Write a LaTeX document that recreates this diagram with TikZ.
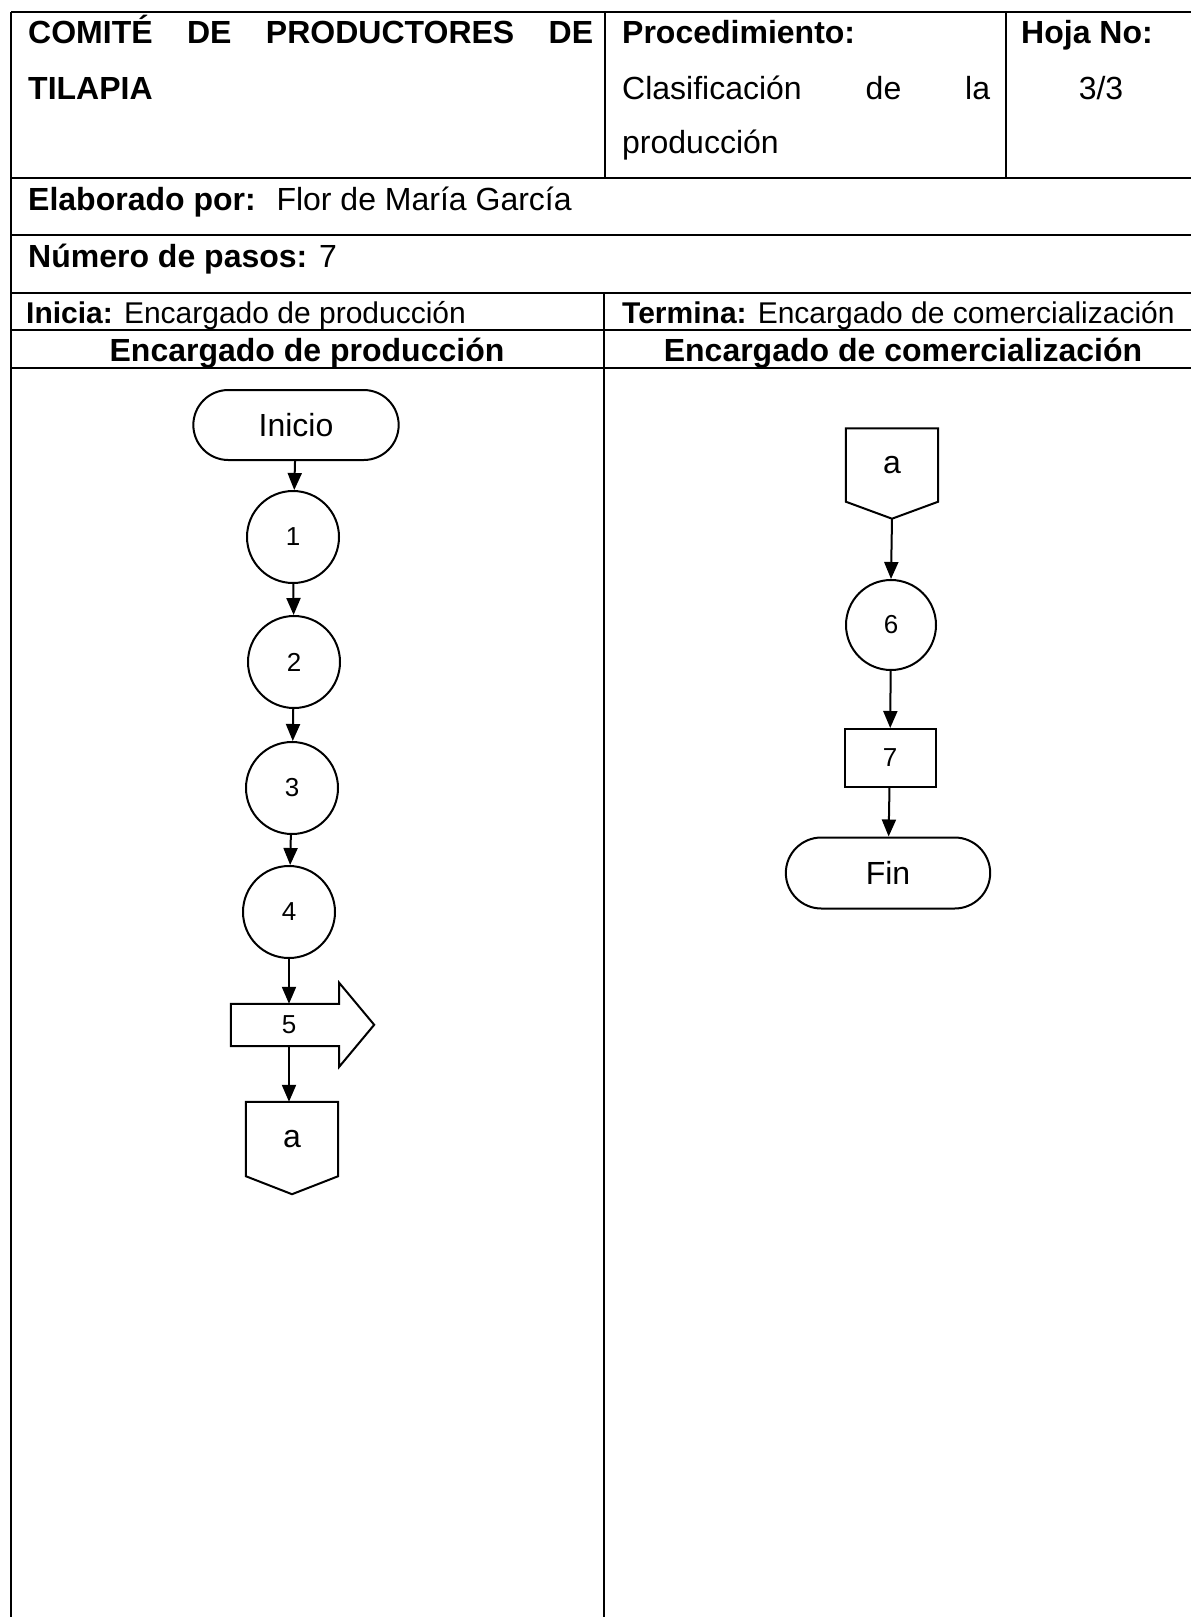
\documentclass[tikz,border=0pt]{standalone}
\usepackage{fontspec}
\setmainfont{Liberation Sans}
\usetikzlibrary{arrows.meta,shapes.misc}

\tikzset{
	texto/.style={anchor=base west, inner sep=0pt, font=\fontsize{32}{38}\selectfont},
	textochico/.style={anchor=base west, inner sep=0pt, font=\fontsize{30}{36}\selectfont},
	titulo/.style={anchor=base, inner sep=0pt, font=\fontsize{32}{38}\selectfont\bfseries},
	paso/.style={circle, draw, line width=2pt, minimum size=92pt, inner sep=0pt, font=\fontsize{26}{30}\selectfont},
	terminal/.style={rounded rectangle, draw, line width=2pt, minimum width=212pt, minimum height=70pt, font=\fontsize{32}{38}\selectfont},
	conector/.style={rectangle, minimum width=92pt, minimum height=74pt, inner sep=0pt, font=\fontsize{32}{38}\selectfont},
	flecha/.style={line width=2pt, -{Triangle[length=17pt,width=14pt]}},
	tabla/.style={line width=2.2pt}
}

\begin{document}
\begin{tikzpicture}[x=1pt, y=-1pt]
	\useasboundingbox (0,0) rectangle (1191,1617);

	% Draw table
	\draw[tabla] (11,12) -- (1191,12);
	\draw[tabla] (11,12) -- (11,1617);
	\draw[tabla] (11,178) -- (1191,178);
	\draw[tabla] (11,235) -- (1191,235);
	\draw[tabla] (11,293) -- (1191,293);
	\draw[tabla] (11,330) -- (1191,330);
	\draw[tabla] (11,368) -- (1191,368);
	\draw[tabla] (605,12) -- (605,178);
	\draw[tabla] (1006,12) -- (1006,178);
	\draw[tabla] (604,293) -- (604,1617);

	% Header texts
	\node[texto] (comite) at (28,43) {\bfseries\makebox[565pt][s]{COMITÉ DE PRODUCTORES DE}};
	\node[texto] (tilapia) at (28,99) {\bfseries TILAPIA};
	\node[texto] (proc) at (622,43) {\bfseries Procedimiento:};
	\node[texto] (clasif) at (622,99) {\makebox[368pt][s]{Clasificación de la}};
	\node[texto] (produc) at (622,153) {producción};
	\node[texto] (hoja) at (1021,43) {\bfseries Hoja No:};
	\node[texto, anchor=base] (num) at (1101,99) {3/3};
	\node[texto] (elab) at (28,210) {\textbf{Elaborado por:}~ Flor de María García};
	\node[texto] (pasos) at (28,267) {\textbf{Número de pasos:} 7};
	\node[textochico] (inicia) at (26,323) {\textbf{Inicia:} Encargado de producción};
	\node[textochico] (termina) at (622,323) {\textbf{Termina:} Encargado de comercialización};
	\node[titulo] (carril1) at (307,361) {Encargado de producción};
	\node[titulo] (carril2) at (903,361) {Encargado de comercialización};

	% Encargado de produccion
	\node[terminal] (inicio) at (296,425) {Inicio};
	\node[paso] (p1) at (293,537) {1};
	\node[paso] (p2) at (294,662) {2};
	\node[paso] (p3) at (292,788) {3};
	\node[paso] (p4) at (289,912) {4};
	\node[rectangle, minimum width=108pt, minimum height=42pt, inner sep=0pt, font=\fontsize{26}{30}\selectfont] (p5) at (285,1025) {\hspace*{8pt}5};
	\draw[line width=2pt] (p5.north west) -- (p5.north east) -- ++(0,-21) -- ++(35,42) -- ++(-35,42) -- (p5.south east) -- (p5.south west) -- cycle;
	\node[conector] (a1) at (292,1139) {a};
	\draw[line width=2pt] (a1.north west) -- (a1.north east) -- (a1.south east) -- ([yshift=-18pt]a1.south) -- (a1.south west) -- cycle;

	% Encargado de comercializacion
	\node[conector, minimum height=73pt] (a2) at (892,465) {a};
	\draw[line width=2pt] (a2.north west) -- (a2.north east) -- (a2.south east) -- ([yshift=-17pt]a2.south) coordinate (a2punta) -- (a2.south west) -- cycle;
	\node[paso, minimum size=90pt] (p6) at (891,625) {6};
	\node[rectangle, draw, line width=2pt, minimum width=91pt, minimum height=58pt, font=\fontsize{26}{30}\selectfont] (p7) at (890,758) {7};
	\node[terminal, minimum width=211pt, minimum height=71pt] (fin) at (888,873) {Fin};

	% Draw arrows
	\draw[flecha] (inicio) -- (p1);
	\draw[flecha] (p1) -- (p2);
	\draw[flecha] (p2) -- (p3);
	\draw[flecha] (p3) -- (p4);
	\draw[flecha] (p4.south) -- (p4.south |- p5.north);
	\draw[flecha] (p5.south -| p4.south) -- (a1.north -| p4.south);
	\draw[flecha] (a2punta) -- (p6.north);
	\draw[flecha] (p6) -- (p7);
	\draw[flecha] (p7) -- (fin);
\end{tikzpicture}
\end{document}
